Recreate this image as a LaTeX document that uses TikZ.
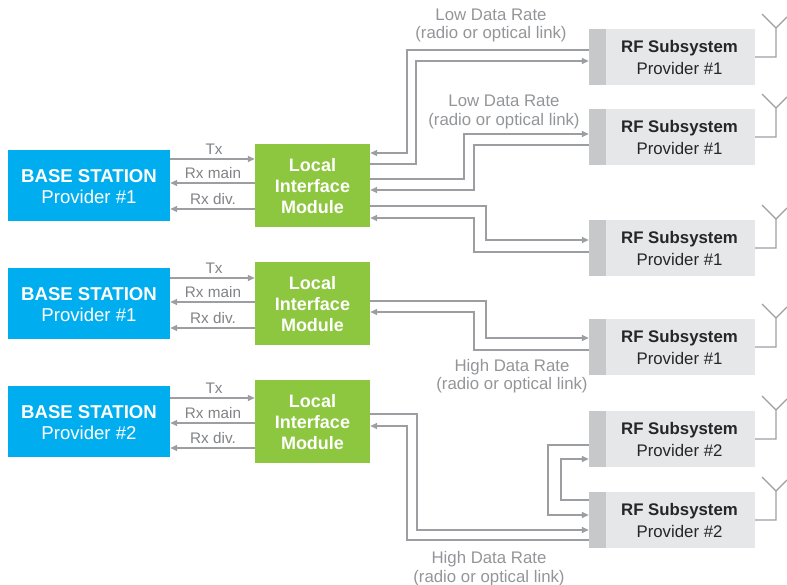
\documentclass[tikz,border=0pt]{standalone}
\usepackage{fontspec}
\setmainfont{Liberation Sans}
\usetikzlibrary{arrows.meta}
\definecolor{bsblue}{HTML}{00AEEF}
\definecolor{limgreen}{HTML}{8DC63F}
\definecolor{rflight}{HTML}{E6E7E8}
\definecolor{rfstrip}{HTML}{C7C8CA}
\definecolor{linkgray}{HTML}{9D9EA1}
\definecolor{labelgray}{HTML}{808285}
\definecolor{rategray}{HTML}{939598}
\tikzset{
  basebox/.style={text=white,minimum width=162pt,minimum height=71pt,inner sep=0pt,align=center,text depth=0pt,font=\fontsize{18.6}{21}\selectfont},
  limbox/.style={text=white,minimum width=115pt,minimum height=83pt,inner sep=0pt,align=center,font=\fontsize{18}{21}\selectfont\bfseries},
  rfbox/.style={fill=rflight,text=black!85,minimum width=151pt,minimum height=56pt,inner sep=0pt,align=center,font=\fontsize{16.8}{22}\selectfont},
  stripbox/.style={fill=rfstrip,minimum width=17pt,minimum height=56pt,inner sep=0pt},
  link/.style={draw=linkgray,line width=1.5pt},
  antenna/.style={draw=linkgray,line width=1.2pt},
  rxlabel/.style={text=labelgray,inner sep=0pt,font=\fontsize{15.3}{18}\selectfont},
  ratelabel/.style={text=rategray,inner sep=0pt,align=center,font=\fontsize{16.8}{18.5}\selectfont}
}
\begin{document}
\begin{tikzpicture}[x=1pt,y=-1pt,>={Triangle[length=7pt,width=6pt]}]
\useasboundingbox (0,0) rectangle (787,585);

%base stations and interface modules
\foreach \n/\y/\p in {1/0/1,2/118/1,3/236/2}{
  \fill[bsblue] (8,150+\y) rectangle (170,221+\y);
  \node[basebox] (bs\n) at (89,186.5+\y) {\textbf{BASE STATION}\\Provider \#\p};
  \fill[limgreen] (255,144+\y) rectangle (370,227+\y);
  \node[limbox] (lim\n) at (312.5,186.5+\y) {Local\\Interface\\Module};
}

%rf subsystems
\foreach \n/\y/\p in {1/29/1,2/109/1,3/220/1,4/319/1,5/411/2,6/492/2}{
  \node[rfbox] (rf\n) at (679.5,\y+28) {\textbf{RF Subsystem}\\Provider \#\p};
  \node[stripbox] (strip\n) at (597.5,\y+28) {};
  \coordinate (fork\n) at (776,\y-1);
  \draw[antenna] (rf\n.east) -| (fork\n) -- ++(-14,-14);
  \draw[antenna] (fork\n) -- ++(11,-11);
}

%left side
\foreach \n/\a/\b/\c in {1/159/183/209,2/278/302/328,3/398/423/448}{
  \draw[link,->] (bs\n.east |- 0,\a) -- (lim\n.west |- 0,\a);
  \draw[link,<-] (bs\n.east |- 0,\b) -- (lim\n.west |- 0,\b);
  \draw[link,<-] (bs\n.east |- 0,\c) -- (lim\n.west |- 0,\c);
  \node[rxlabel] (tx\n) at (214,\a-10) {Tx};
  \node[rxlabel] (rxm\n) at (213,\b-10) {Rx main};
  \node[rxlabel] (rxd\n) at (213,\c-10) {Rx div.};
}

%right side, first module
\draw[link,<-] (lim1.east |- 0,153) -| (407,50) -- (strip1.west |- 0,50);
\draw[link,->] (lim1.east |- 0,164) -| (416,61) -- (strip1.west |- 0,61);
\draw[link,->] (lim1.east |- 0,179) -| (464,134) -- (strip2.west |- 0,134);
\draw[link,<-] (lim1.east |- 0,190) -| (474,145) -- (strip2.west |- 0,145);
\draw[link,->] (lim1.east |- 0,206) -| (486,240) -- (strip3.west |- 0,240);
\draw[link,<-] (lim1.east |- 0,218) -| (474,252) -- (strip3.west |- 0,252);

%second module
\draw[link,->] (lim2.east |- 0,301) -| (486,338) -- (strip4.west |- 0,338);
\draw[link,<-] (lim2.east |- 0,312) -| (474,350) -- (strip4.west |- 0,350);

%third module
\draw[link,->] (lim3.east |- 0,414) -| (417,530) -- (strip6.west |- 0,530);
\draw[link,<-] (lim3.east |- 0,426) -| (407,540) -- (strip6.west |- 0,540);
\draw[link,->] (strip5.west |- 0,445) -| (548,515) -- (strip6.west |- 0,515);
\draw[link,->] (strip6.west |- 0,500) -| (561,459) -- (strip5.west |- 0,459);

\node[ratelabel] (rate1) at (491,25.5) {Low Data Rate\\(radio or optical link)};
\node[ratelabel] (rate2) at (504,112) {Low Data Rate\\(radio or optical link)};
\node[ratelabel] (rate3) at (512,376) {High Data Rate\\(radio or optical link)};
\node[ratelabel] (rate4) at (489,568.5) {High Data Rate\\(radio or optical link)};
\end{tikzpicture}
\end{document}
